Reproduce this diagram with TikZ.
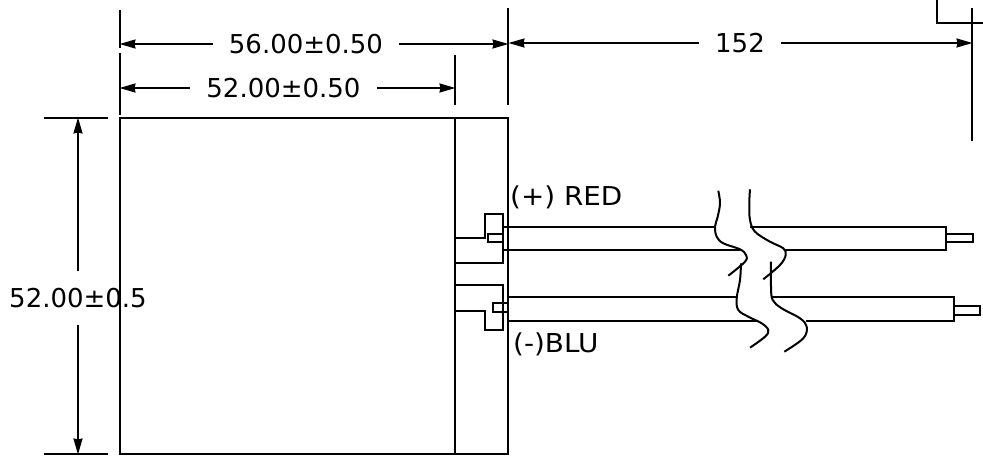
\documentclass[tikz,border=0pt]{standalone}
\usepackage{fontspec}
\setmainfont{DejaVu Sans}
\newfontfamily\widefont[FakeStretch=1.07]{DejaVu Sans}
\usetikzlibrary{shapes,arrows.meta,positioning}

\tikzset{
	part/.style={line width=2.3pt, line join=miter},
	thin part/.style={line width=1.8pt},
	dimline/.style={line width=1.8pt, -{Stealth[length=16pt,width=9pt,inset=1pt]}, shorten >=-0.5pt},
	dimtext/.style={font=\fontsize{26}{26}\selectfont, inner xsep=16pt, inner ysep=17pt, text height=19pt, text depth=0pt},
	wiretext/.style={font=\widefont\fontsize{26}{26}\selectfont, anchor=west, inner xsep=0pt, inner ysep=0pt},
	wave/.style={line width=2pt, smooth, tension=0.6}
}

\begin{document}
\begin{tikzpicture}[x=1pt,y=-1pt]
	\useasboundingbox (0,0) rectangle (983,458);

	% labels of the dimensions and of the wires
	\node[dimtext] (lenOuter) at (306,44) {56.00±0.50};
	\node[dimtext] (lenInner) at (283.5,88) {52.00±0.50};
	\node[dimtext] (lenWire) at (740,43) {152};
	\node[dimtext] (height) at (78,298) {52.00±0.5};
	\node[wiretext] (redLabel) at (510,197.5) {(+) RED};
	\node[wiretext] (bluLabel) at (513,344.5) {(-)BLU};

	% ends of the arrows
	\coordinate (outerL) at (120,44);
	\coordinate (outerR) at (508,44);
	\coordinate (innerL) at (120,88);
	\coordinate (innerR) at (455,88);
	\coordinate (wireL) at (509,43);
	\coordinate (wireR) at (972,43);
	\coordinate (heightT) at (78,118);
	\coordinate (heightB) at (78,454);

	\draw[dimline] (lenOuter.west) -- (outerL);
	\draw[dimline] (lenOuter.east) -- (outerR);
	\draw[dimline] (lenInner.west) -- (innerL);
	\draw[dimline] (lenInner.east) -- (innerR);
	\draw[dimline] (lenWire.west) -- (wireL);
	\draw[dimline] (lenWire.east) -- (wireR);
	\draw[dimline] (height.north) -- (heightT);
	\draw[dimline] (height.south) -- (heightB);

	% extension lines
	\draw[thin part] (120,10) -- (120,48) (120,53) -- (120,115);
	\draw[thin part] (508,8) -- (508,105);
	\draw[thin part] (455,55) -- (455,105);
	\draw[thin part] (972,8) -- (972,141);
	\draw[thin part] (44,118) -- (108,118);
	\draw[thin part] (44,454) -- (108,454);
	\draw[part] (937,0) -- (937,23) -- (983,23);

	% body
	\draw[part] (120,118) rectangle (508,454);
	\draw[part] (455,118) -- (455,454);

	% upper connector
	\draw[part] (455,238) -- (485,238) -- (485,214) -- (503,214) -- (503,263) -- (455,263);
	\draw[part] (488,234) rectangle (503,242);

	% lower connector
	\draw[part] (455,285) -- (503,285) -- (503,330) -- (485,330) -- (485,311) -- (455,311);
	\draw[part] (493,303) rectangle (508,312);

	% wires, broken between the waves
	\draw[part] (503,227) -- (715,227) (750,227) -- (946,227);
	\draw[part] (503,250) -- (740,250) (785,250) -- (946,250);
	\draw[part] (508,297) -- (737,297) (772,297) -- (954,297);
	\draw[part] (508,321) -- (758,321) (806,321) -- (954,321);

	% wire ends
	\draw[part] (946,226) -- (946,251);
	\draw[part] (954,296) -- (954,322);
	\draw[part] (946,234) rectangle (973,242);
	\draw[part] (954,306) rectangle (980,315);

	% break marks
	\draw[wave] plot coordinates {(718.3,190.7) (720,203.3) (717.7,216.7) (715,226.7) (716.7,236.7) (723.3,243.3) (740,249.3) (746,255) (745,261.7) (728.3,275.7)};
	\draw[wave] plot coordinates {(750,189.3) (749.3,203.3) (750,220) (755,231.7) (770,241.7) (783.3,248.3) (785.7,255) (780,265) (763.3,279.3)};
	\draw[wave] plot coordinates {(741,263.3) (740,280) (736.7,298.3) (738.3,310) (748.3,316.7) (761.7,323.3) (768.3,330) (765,336.7) (750,347.7)};
	\draw[wave] plot coordinates {(771,261.7) (771,286.7) (772.7,300) (781.7,308.3) (800,318.3) (806.7,326.7) (803.3,338.3) (784.3,351.7)};
\end{tikzpicture}
\end{document}
